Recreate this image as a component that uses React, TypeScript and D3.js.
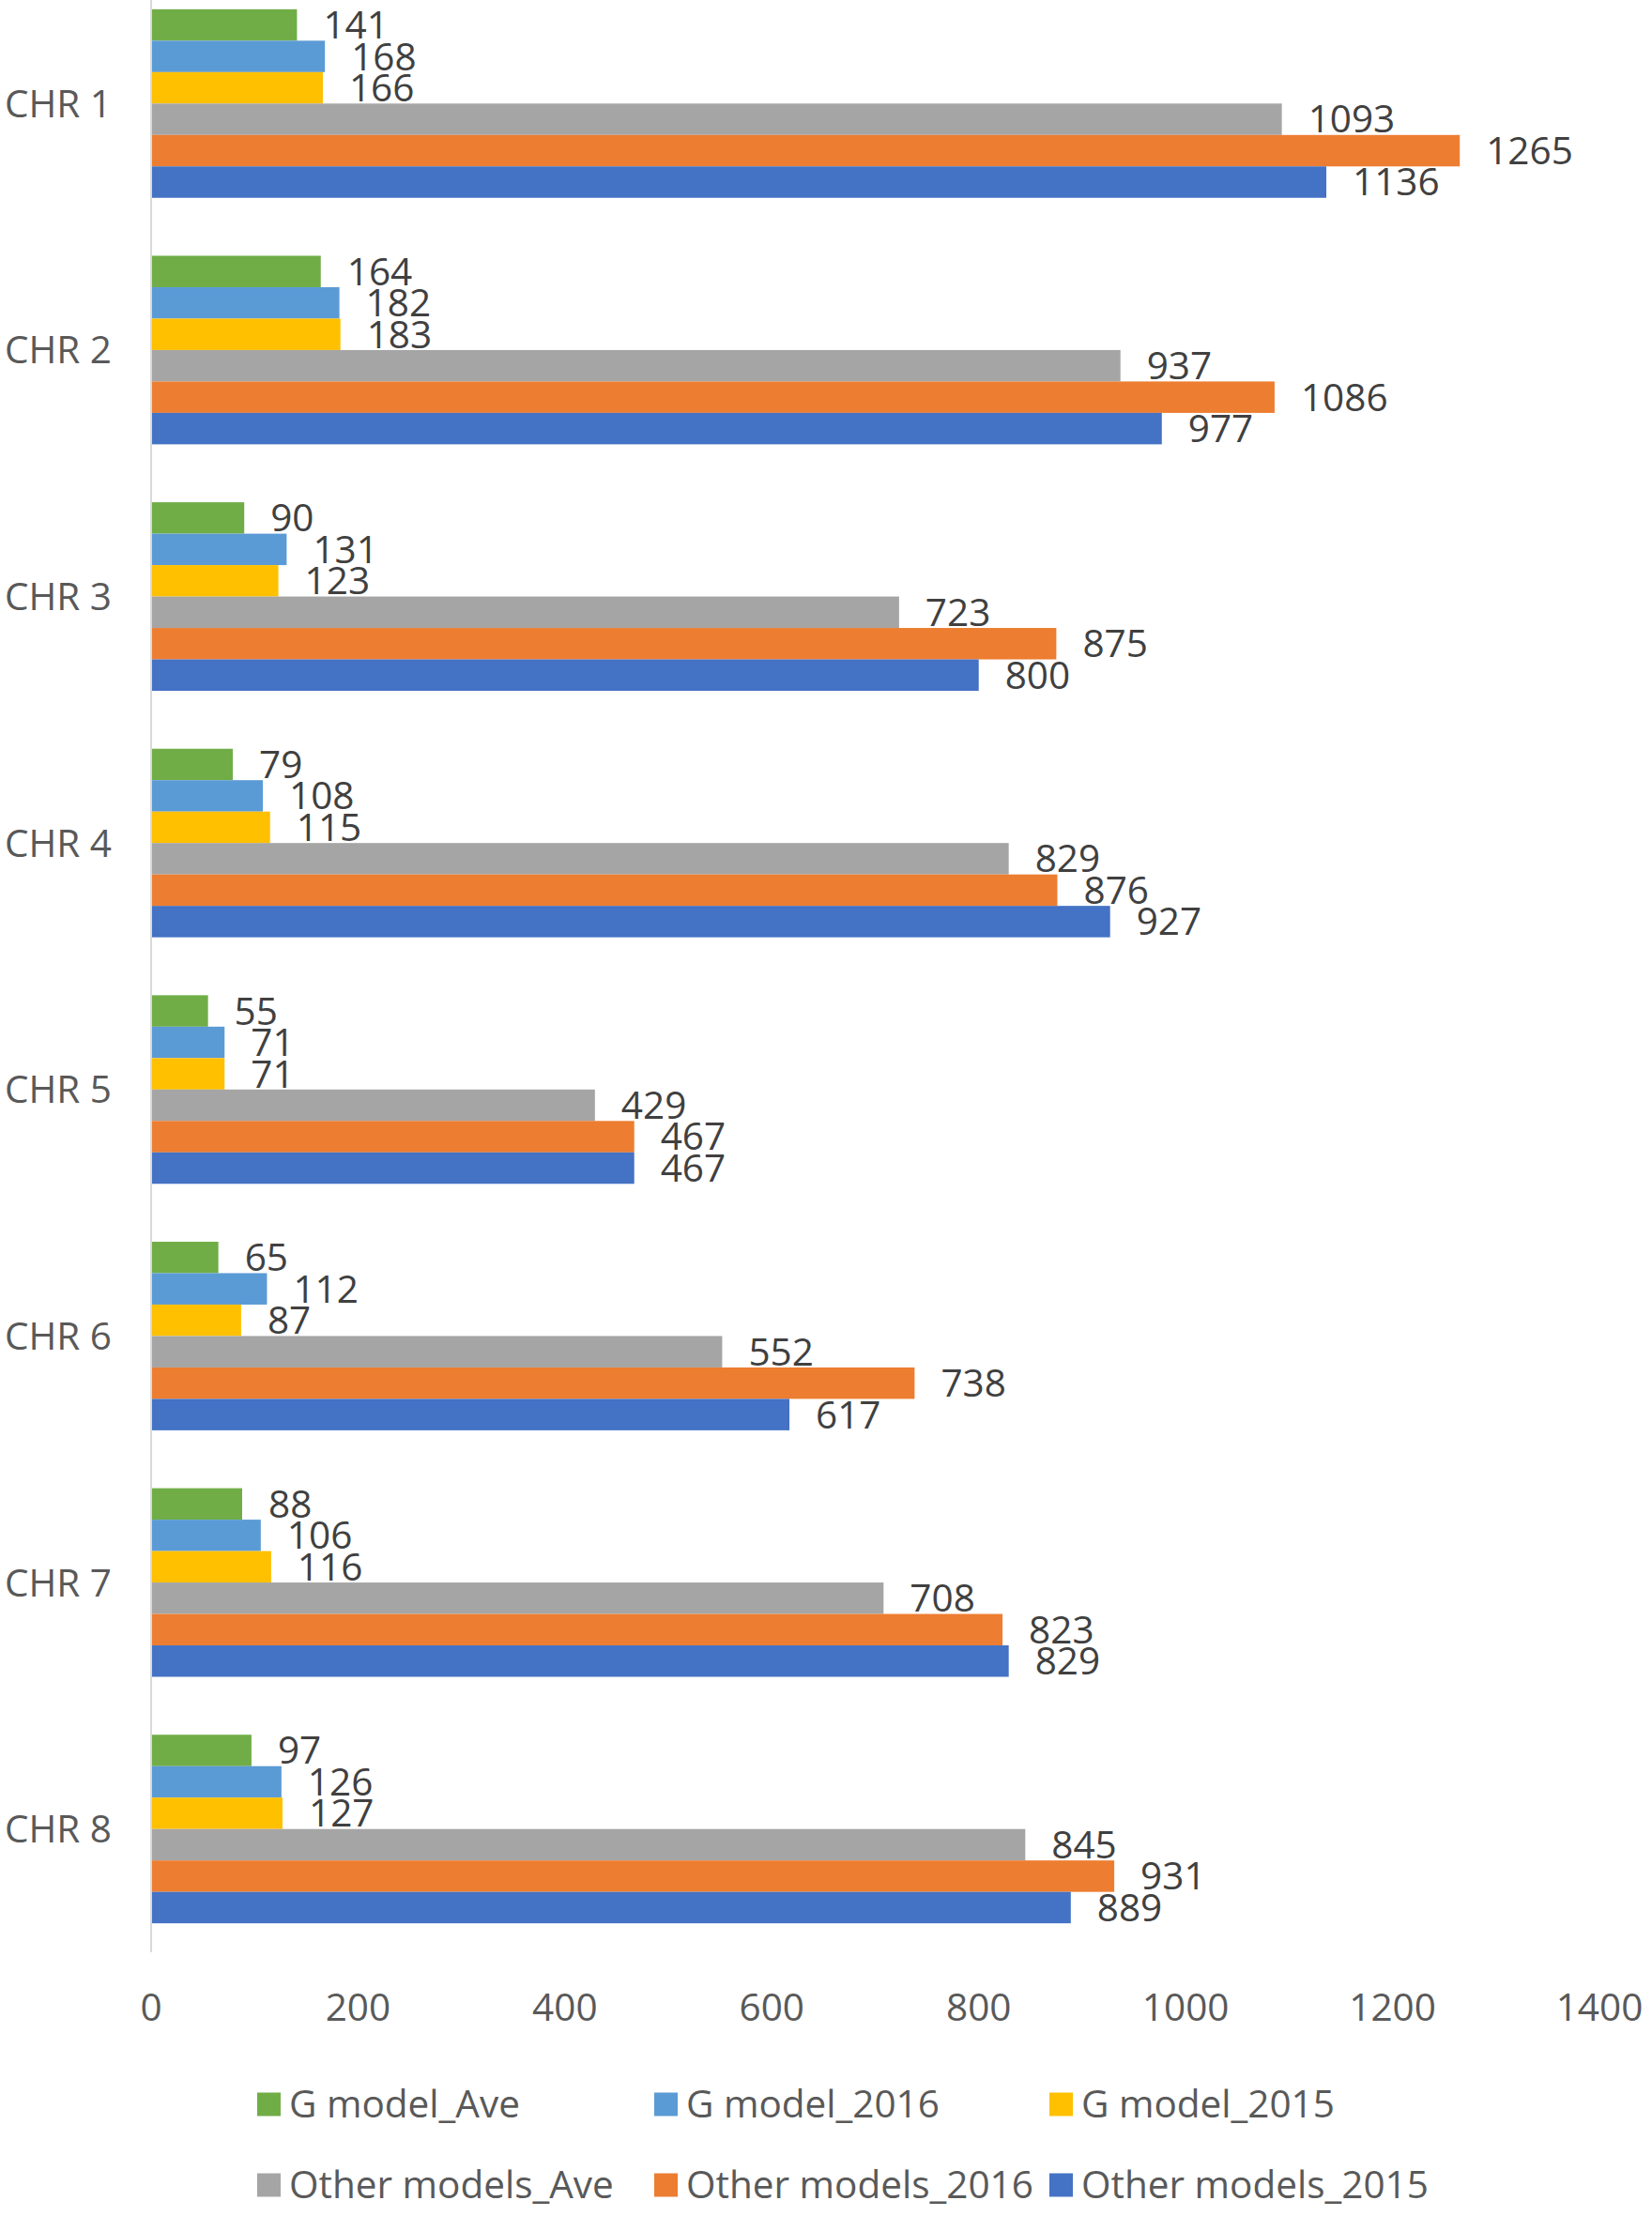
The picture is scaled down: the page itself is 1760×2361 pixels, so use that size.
import React from 'react';
import * as d3 from 'd3';

const categories = ['CHR 1', 'CHR 2', 'CHR 3', 'CHR 4', 'CHR 5', 'CHR 6', 'CHR 7', 'CHR 8'];

const seriesNames = [
  'G model_Ave',
  'G model_2016',
  'G model_2015',
  'Other models_Ave',
  'Other models_2016',
  'Other models_2015',
];

const gModelAve = [141, 164, 90, 79, 55, 65, 88, 97];
const gModel2016 = [168, 182, 131, 108, 71, 112, 106, 126];
const gModel2015 = [166, 183, 123, 115, 71, 87, 116, 127];
const otherAve = [1093, 937, 723, 829, 429, 552, 708, 845];
const other2016 = [1265, 1086, 875, 876, 467, 738, 823, 931];
const other2015 = [1136, 977, 800, 927, 467, 617, 829, 889];

const seriesValues = [gModelAve, gModel2016, gModel2015, otherAve, other2016, other2015];
const colors = ['#70AD47', '#5B9BD5', '#FFC000', '#A5A5A5', '#ED7D31', '#4472C4'];

const xTicks = [0, 200, 400, 600, 800, 1000, 1200, 1400];

const W = 1760;
const H = 2361;
const FONT = '"Open Sans", sans-serif';
const FS = 40.5;

export default function App() {
  // Scales
  const x = d3.scaleLinear().domain([0, 1400]).range([161, 1704]);
  const y = d3.scaleBand<string>()
    .domain(categories)
    .range([-21, 2080])
    .paddingInner(0.235)
    .paddingOuter(0.1175);
  const ySeries = d3.scaleBand<string>()
    .domain(seriesNames)
    .range([0, y.bandwidth()]);

  // Legend layout: 3 columns x 2 rows
  const legendCols = [274, 697, 1118];
  const legendRows = [2242, 2328];

  return (
    <div style={{ position: 'absolute', left: 0, top: 0 }}>
      <svg width={W} height={H} style={{ display: 'block', background: '#fff' }}>
        {/* Bars */}
        {categories.map((cat, ci) => (
          <g key={cat} transform={`translate(0,${y(cat)})`}>
            {seriesNames.map((s, si) => {
              const v = seriesValues[si][ci];
              const yy = ySeries(s)!;
              return (
                <rect
                  key={s}
                  x={x(0)}
                  y={yy}
                  width={x(v) - x(0)}
                  height={ySeries.bandwidth()}
                  fill={colors[si]}
                />
              );
            })}
          </g>
        ))}

        {/* Axis line */}
        <line x1={x(0)} x2={x(0)} y1={y.range()[0]} y2={y.range()[1]} stroke="#D9D9D9" strokeWidth={2} />

        {/* Data labels */}
        {categories.map((cat, ci) => (
          <g key={cat + '-lbl'} transform={`translate(0,${y(cat)})`}>
            {seriesNames.map((s, si) => {
              const v = seriesValues[si][ci];
              const cy = ySeries(s)! + ySeries.bandwidth() / 2;
              return (
                <text
                  key={s}
                  x={x(v) + 28}
                  y={cy + FS * 0.357}
                  fontFamily={FONT}
                  fontSize={FS}
                  fill="#404040"
                >
                  {v}
                </text>
              );
            })}
          </g>
        ))}

        {/* Category labels */}
        {categories.map(cat => (
          <text
            key={cat + '-cat'}
            x={119}
            y={y(cat)! + y.bandwidth() / 2 + FS * 0.357}
            textAnchor="end"
            fontFamily={FONT}
            fontSize={FS}
            fill="#595959"
          >
            {cat}
          </text>
        ))}

        {/* X tick labels */}
        {xTicks.map(t => (
          <text
            key={t}
            x={x(t)}
            y={2139 + FS * 0.357}
            textAnchor="middle"
            fontFamily={FONT}
            fontSize={FS}
            fill="#595959"
          >
            {t}
          </text>
        ))}

        {/* Legend */}
        {seriesNames.map((s, i) => {
          const lx = legendCols[i % 3];
          const ly = legendRows[Math.floor(i / 3)];
          return (
            <g key={s + '-leg'}>
              <rect x={lx} y={ly - 12.5} width={25} height={25} fill={colors[i]} />
              <text
                x={lx + 34}
                y={ly + FS * 0.357}
                fontFamily={FONT}
                fontSize={FS}
                fill="#595959"
              >
                {s}
              </text>
            </g>
          );
        })}
      </svg>
    </div>
  );
}
